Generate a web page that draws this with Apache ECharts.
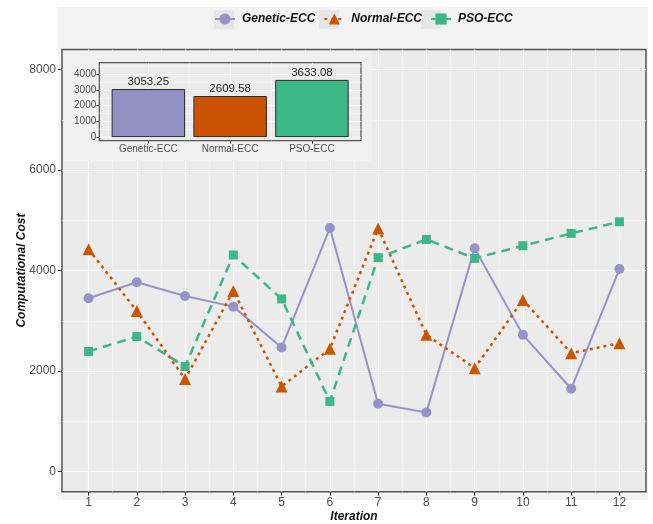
<!DOCTYPE html>
<html>
<head>
<meta charset="utf-8">
<script src="https://cdn.jsdelivr.net/npm/echarts@6/dist/echarts.min.js"></script>
<style>html,body{margin:0;padding:0;background:#fff}#c{width:653px;height:524px}</style>
</head>
<body>
<div id="c"></div>
<script>
// ---- data ----
const iterations = [1, 2, 3, 4, 5, 6, 7, 8, 9, 10, 11, 12];
const geneticECC = [3450, 3768, 3495, 3283, 2469, 4846, 1350, 1178, 4443, 2721, 1648, 4032];
const normalECC  = [4423, 3198, 1841, 3595, 1695, 2443, 4840, 2721, 2059, 3416, 2357, 2556];
const psoECC     = [2390, 2688, 2092, 4310, 3436, 1397, 4257, 4621, 4244, 4495, 4740, 4972];
const yTicks = [0, 2000, 4000, 6000, 8000];
const yMinorTicks = [1000, 3000, 5000, 7000];
const xMinorTicks = [1.5, 2.5, 3.5, 4.5, 5.5, 6.5, 7.5, 8.5, 9.5, 10.5, 11.5];
const insetCategories = ['Genetic-ECC', 'Normal-ECC', 'PSO-ECC'];
const insetValues = [3053.25, 2609.58, 3633.08];
const insetPositions = [1, 2, 3];
const insetTicks = [0, 1000, 2000, 3000, 4000];
const insetMinorTicks = [500, 1500, 2500, 3500, 4500];
const insetXMinor = [1.5, 2.5];

const colors = { genetic: '#9792C8', normal: '#CC5500', pso: '#3DB68A' };
const barColors = ['#9590C4', '#C95300', '#3DB68A'];
const labelColor = '#4D4D4D';
const fontFam = '"Liberation Sans", Arial, sans-serif';
const plain = v => String(v);

const pairs = (xs, ys) => xs.map((x, i) => [x, ys[i]]);

const chart = echarts.init(document.getElementById('c'), null, { renderer: 'canvas' });

const option = {
  backgroundColor: '#ffffff',
  animation: false,
  textStyle: { fontFamily: fontFam },
  graphic: [
    { type: 'rect', z: -10, shape: { x: 58, y: 7, width: 590, height: 493 }, style: { fill: '#F3F3F3' } },
    { type: 'rect', z: -9, shape: { x: 214, y: 10, width: 20, height: 19 }, style: { fill: '#E6E6E6' } },
    { type: 'rect', z: -9, shape: { x: 319, y: 10, width: 20, height: 19 }, style: { fill: '#E6E6E6' } },
    { type: 'rect', z: -9, shape: { x: 421, y: 10, width: 20, height: 19 }, style: { fill: '#E6E6E6' } },
    { type: 'rect', z: 5, shape: { x: 64, y: 51, width: 308, height: 110 }, style: { fill: '#F0F0F0' } }
  ],
  legend: {
    left: 214, top: 13, padding: 0,
    itemWidth: 20, itemHeight: 14, itemGap: 8,
    textStyle: { fontFamily: fontFam, fontSize: 12, fontWeight: 'bold', fontStyle: 'italic', color: '#111', padding: [2, 0, 0, 2] },
    data: ['Genetic-ECC', 'Normal-ECC', 'PSO-ECC']
  },
  grid: [
    { left: 62, top: 49.5, right: 7, bottom: 32.3, outerBoundsMode: 'none', containLabel: false, show: true, backgroundColor: '#EBEBEB', borderColor: '#555', borderWidth: 1.5, z: 0 },
    { left: 99.3, top: 62.7, width: 261.7, height: 78, outerBoundsMode: 'none', containLabel: false, show: true, backgroundColor: '#EBEBEB', borderColor: '#555', borderWidth: 1.2, z: 6 }
  ],
  xAxis: [
    {
      gridIndex: 0, type: 'value', min: 0.45, max: 12.55,
      name: 'Iteration', nameLocation: 'middle', nameGap: 19, nameMoveOverlap: false,
      nameTextStyle: { fontFamily: fontFam, fontSize: 12, fontWeight: 'bold', fontStyle: 'italic', color: '#111' },
      axisLine: { show: false, onZero: false },
      axisTick: { show: true, length: 4, lineStyle: { color: '#333', width: 1 }, customValues: iterations },
      axisLabel: { customValues: iterations, color: labelColor, fontSize: 12, margin: 5, fontFamily: fontFam, formatter: plain },
      splitLine: { show: true, lineStyle: { color: '#FFFFFF', width: 1.2 } }
    },
    {
      gridIndex: 0, type: 'value', min: 0.45, max: 12.55,
      axisLine: { show: false, onZero: false },
      axisTick: { show: false, customValues: xMinorTicks },
      axisLabel: { show: false, customValues: xMinorTicks },
      splitLine: { show: true, lineStyle: { color: '#F6F6F6', width: 0.6 } }
    },
    {
      gridIndex: 1, type: 'value', min: 0.4, max: 3.6, z: 6,
      axisLine: { show: false, onZero: false },
      axisTick: { show: true, length: 3, lineStyle: { color: '#333', width: 1 }, customValues: insetPositions },
      axisLabel: { customValues: insetPositions, color: labelColor, fontSize: 10, margin: 4, fontFamily: fontFam,
        formatter: v => insetCategories[Math.round(v) - 1] },
      splitLine: { show: true, lineStyle: { color: '#FFFFFF', width: 0.8 } }
    },
    {
      gridIndex: 1, type: 'value', min: 0.4, max: 3.6, z: 6,
      axisLine: { show: false, onZero: false },
      axisTick: { show: false, customValues: insetXMinor },
      axisLabel: { show: false, customValues: insetXMinor },
      splitLine: { show: true, lineStyle: { color: '#F6F6F6', width: 0.5 } }
    }
  ],
  yAxis: [
    {
      gridIndex: 0, type: 'value', min: -400, max: 8400,
      name: 'Computational Cost', nameLocation: 'middle', nameGap: 34, nameRotate: 90, nameMoveOverlap: false,
      nameTextStyle: { fontFamily: fontFam, fontSize: 12, fontWeight: 'bold', fontStyle: 'italic', color: '#111' },
      axisLine: { show: false, onZero: false },
      axisTick: { show: true, length: 4, lineStyle: { color: '#333', width: 1 }, customValues: yTicks },
      axisLabel: { customValues: yTicks, color: labelColor, fontSize: 12, margin: 6, fontFamily: fontFam, formatter: plain },
      splitLine: { show: true, lineStyle: { color: '#FFFFFF', width: 1.2 } }
    },
    {
      gridIndex: 0, type: 'value', min: -400, max: 8400,
      axisLine: { show: false, onZero: false },
      axisTick: { show: false, customValues: yMinorTicks },
      axisLabel: { show: false, customValues: yMinorTicks },
      splitLine: { show: true, lineStyle: { color: '#F6F6F6', width: 0.6 } }
    },
    {
      gridIndex: 1, type: 'value', min: -225, max: 4725, z: 6,
      axisLine: { show: false, onZero: false },
      axisTick: { show: true, length: 3, lineStyle: { color: '#333', width: 1 }, customValues: insetTicks },
      axisLabel: { customValues: insetTicks, color: labelColor, fontSize: 10, margin: 3, fontFamily: fontFam, formatter: plain },
      splitLine: { show: true, lineStyle: { color: '#FFFFFF', width: 0.8 } }
    },
    {
      gridIndex: 1, type: 'value', min: -225, max: 4725, z: 6,
      axisLine: { show: false, onZero: false },
      axisTick: { show: false, customValues: insetMinorTicks },
      axisLabel: { show: false, customValues: insetMinorTicks },
      splitLine: { show: true, lineStyle: { color: '#F6F6F6', width: 0.5 } }
    }
  ],
  series: [
    {
      name: 'Genetic-ECC', type: 'line', xAxisIndex: 0, yAxisIndex: 0,
      data: pairs(iterations, geneticECC),
      symbol: 'circle', symbolSize: 10,
      lineStyle: { color: colors.genetic, width: 2, type: 'solid' },
      itemStyle: { color: colors.genetic }, z: 2
    },
    {
      name: 'Normal-ECC', type: 'line', xAxisIndex: 0, yAxisIndex: 0,
      data: pairs(iterations, normalECC),
      symbol: 'triangle', symbolSize: 12,
      lineStyle: { color: colors.normal, width: 2.5, type: [3, 4] },
      itemStyle: { color: colors.normal }, z: 3
    },
    {
      name: 'PSO-ECC', type: 'line', xAxisIndex: 0, yAxisIndex: 0,
      data: pairs(iterations, psoECC),
      symbol: 'rect', symbolSize: 9,
      lineStyle: { color: colors.pso, width: 2.5, type: [9, 6] },
      itemStyle: { color: colors.pso }, z: 4
    },
    {
      name: 'inset', type: 'bar', xAxisIndex: 2, yAxisIndex: 2, z: 8,
      barWidth: 73.5,
      data: insetPositions.map((x, i) => ({ value: [x, insetValues[i]], itemStyle: { color: barColors[i] } })),
      itemStyle: { borderColor: '#2A2A2A', borderWidth: 1 },
      label: { show: true, position: 'top', distance: 1, color: '#222', fontSize: 11.5, fontFamily: fontFam,
        formatter: p => insetValues[p.dataIndex].toFixed(2) }
    }
  ]
};
chart.setOption(option);
</script>
</body>
</html>
